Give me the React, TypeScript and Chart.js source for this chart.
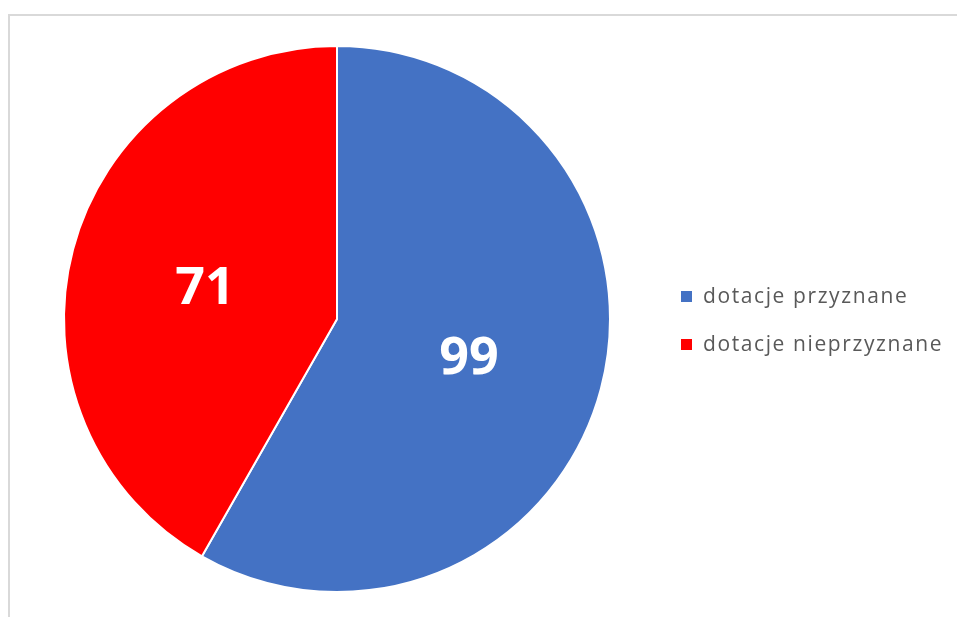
import React, { useEffect, useRef } from "react";
import { Chart, registerables } from "chart.js";

Chart.register(...registerables);

const categories = ["dotacje przyznane", "dotacje nieprzyznane"];
const values = [99, 71];
const colors = ["#4472C4", "#FF0000"];

const labelPlugin = {
  id: "sliceLabels",
  afterDatasetsDraw(chart: any) {
    const ctx = chart.ctx;
    const meta = chart.getDatasetMeta(0);
    ctx.save();
    ctx.fillStyle = "#FFFFFF";
    ctx.font = "bold 52px 'Open Sans', sans-serif";
    ctx.textAlign = "center";
    ctx.textBaseline = "middle";
    meta.data.forEach((arc: any, i: number) => {
      const p = arc.tooltipPosition();
      ctx.fillText(String(chart.data.datasets[0].data[i]), p.x, p.y + 5);
    });
    ctx.restore();
  },
};

const legendPlugin = {
  id: "customLegend",
  afterDraw(chart: any) {
    const ctx = chart.ctx;
    const labels = chart.data.labels as string[];
    const bg = chart.data.datasets[0].backgroundColor as string[];
    const x0 = 681;
    const y0 = 297;
    const gap = 48;
    ctx.save();
    ctx.font = "21px 'Open Sans', sans-serif";
    (ctx as any).letterSpacing = "1.6px";
    ctx.textBaseline = "middle";
    ctx.textAlign = "left";
    labels.forEach((lab, i) => {
      const y = y0 + i * gap;
      ctx.fillStyle = bg[i];
      ctx.fillRect(x0, y - 6, 11, 11);
      ctx.fillStyle = "#595959";
      ctx.fillText(lab, x0 + 22, y);
    });
    ctx.restore();
  },
};

export default function App() {
  const ref = useRef<HTMLCanvasElement>(null);
  useEffect(() => {
    if (!ref.current) return;
    const chart = new Chart(ref.current, {
      type: "pie",
      data: {
        labels: categories,
        datasets: [
          {
            data: values,
            backgroundColor: colors,
            borderColor: "#FFFFFF",
            borderWidth: 2,
          },
        ],
      },
      options: {
        animation: false,
        responsive: false,
        layout: { padding: { left: 63, right: 346, top: 45, bottom: 24 } },
        plugins: {
          legend: { display: false },
          tooltip: { enabled: false },
        },
      },
      plugins: [labelPlugin, legendPlugin],
    });
    return () => chart.destroy();
  }, []);
  return (
    <div style={{ position: "fixed", left: 0, top: 0, width: 957, height: 617, background: "#fff", overflow: "hidden" }}>
      <div
        style={{
          position: "absolute",
          left: 8,
          top: 14,
          width: 1000,
          height: 700,
          borderLeft: "2px solid #D9D9D9",
          borderTop: "2px solid #D9D9D9",
        }}
      />
      <canvas ref={ref} width={957} height={617} style={{ position: "absolute", left: 0, top: 0 }} />
    </div>
  );
}
